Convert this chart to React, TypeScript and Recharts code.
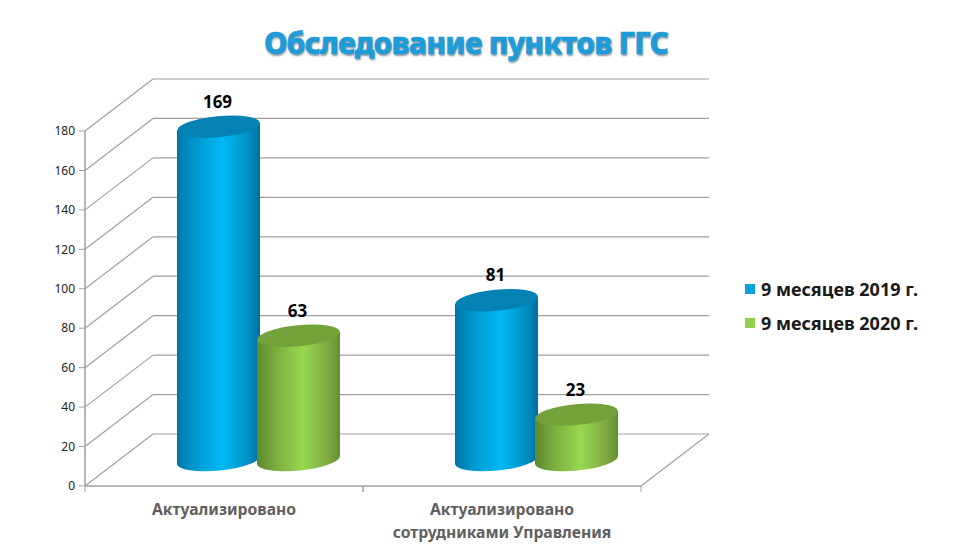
import { BarChart, Bar, XAxis, YAxis, CartesianGrid, Legend, LabelList } from 'recharts'

// ── Data ─────────────────────────────────────────────────────────────────────
const categories = ['Актуализировано', 'Актуализировано\nсотрудниками Управления']
const values2019 = [169, 81]
const values2020 = [63, 23]
const yTicks = [0, 20, 40, 60, 80, 100, 120, 140, 160, 180]
const seriesNames = ['9 месяцев 2019 г.', '9 месяцев 2020 г.']
const title = 'Обследование пунктов ГГС'

const rows = categories.map((name, i) => ({ name, a: values2019[i], b: values2020[i] }))

// ── Fake 3D look ─────────────────────────────────────────────────────────────
const DEPTH_X = 68
const DEPTH_Y = 52
const MID_X = DEPTH_X / 2
const MID_Y = DEPTH_Y / 2
const TILT = -5.5
const RY = 10.5
const LINE = '#a0a0a0'
const FONT = '"Noto Sans", sans-serif'
const PLOT_W = 556

const C = {
  blueTop: '#0582b4',
  greenTop: '#73a13a',
  blueLegend: '#00a2de',
  greenLegend: '#92d050',
}

function Cylinder(props: any) {
  const { x, y, width, height, fill, top } = props
  const rx = width / 2
  const cx = x + rx + MID_X
  const yTop = y - MID_Y
  const yBot = y + height - MID_Y
  const dy = rx * Math.sin((-TILT * Math.PI) / 180)
  const xl = cx - rx
  const xr = cx + rx
  const body = `M${xl} ${yTop + dy} L${xl} ${yBot + dy} A${rx} ${RY} ${TILT} 0 0 ${xr} ${yBot - dy} L${xr} ${yTop - dy} Z`
  return (
    <g>
      <path d={body} fill={fill} />
      <ellipse cx={cx} cy={yTop} rx={rx} ry={RY} fill={top} transform={`rotate(${TILT} ${cx} ${yTop})`} />
    </g>
  )
}

// grid line on the back wall + its run along the side wall
function WallLine(props: any) {
  const { x1, x2, y1, index } = props
  return (
    <g key={`wall-${index}`} stroke={LINE} strokeWidth={1.2} fill="none">
      <line x1={x1} y1={y1} x2={x1 + DEPTH_X} y2={y1 - DEPTH_Y} />
      <line x1={x1 + DEPTH_X} y1={y1 - DEPTH_Y} x2={x2 + DEPTH_X} y2={y1 - DEPTH_Y} />
      {index === 0 && <line x1={x2} y1={y1} x2={x2 + DEPTH_X} y2={y1 - DEPTH_Y} />}
    </g>
  )
}

function CategoryTick(props: any) {
  const { x, y, payload } = props
  const half = PLOT_W / categories.length / 2
  const lines = String(payload.value).split('\n')
  return (
    <g>
      <line x1={x - half} y1={y - 8} x2={x - half} y2={y - 2} stroke={LINE} />
      <line x1={x + half} y1={y - 8} x2={x + half} y2={y - 2} stroke={LINE} />
      {lines.map((t, i) => (
        <text key={t} x={x} y={y + 21 + i * 23} textAnchor="middle" fontFamily={FONT} fontSize={15.7} fontWeight={700} fill="#606060">
          {t}
        </text>
      ))}
    </g>
  )
}

function ValueLabel(props: any) {
  const { x, y, width, value } = props
  return (
    <text x={x + width / 2 + MID_X - 1} y={y - MID_Y - 19} textAnchor="middle" fontFamily={FONT} fontSize={17} fontWeight={700} fill="#000">
      {value}
    </text>
  )
}

function LegendBox() {
  const swatches = [C.blueLegend, C.greenLegend]
  return (
    <div style={{ width: 200 }}>
      {seriesNames.map((n, i) => (
        <div key={n} style={{ display: 'flex', alignItems: 'center', height: 34, fontFamily: FONT, fontSize: 18, fontWeight: 700, color: '#1a1a1a' }}>
          <span style={{ width: 10, height: 10, background: swatches[i], marginRight: 6, flexShrink: 0 }} />
          <span style={{ whiteSpace: 'nowrap' }}>{n}</span>
        </div>
      ))}
    </div>
  )
}

export default function App() {
  return (
    <div style={{ position: 'absolute', left: 0, top: 0, width: 960, height: 558, background: '#fff' }}>
      <div
        style={{
          position: 'absolute', left: 0, width: 932, top: 18, textAlign: 'center',
          fontFamily: FONT, fontSize: 30, fontWeight: 800, lineHeight: '50px', color: '#1f9bd8', letterSpacing: -0.8,
          textShadow: '1px 2px 2px rgba(40,70,90,0.55)', WebkitTextStroke: '0.6px #1f9bd8',
        }}
      >
        {title}
      </div>
      <BarChart
        width={960}
        height={558}
        data={rows}
        margin={{ top: 131, right: 119, bottom: 0, left: 0 }}
        barSize={83}
        barGap={-3}
      >
        <defs>
          <linearGradient id="blueBody" x1="0" y1="0" x2="1" y2="0">
            <stop offset="0" stopColor="#0076a8" />
            <stop offset="0.2" stopColor="#0095cc" />
            <stop offset="0.55" stopColor="#00baf5" />
            <stop offset="0.85" stopColor="#0090c4" />
            <stop offset="1" stopColor="#006f9e" />
          </linearGradient>
          <linearGradient id="greenBody" x1="0" y1="0" x2="1" y2="0">
            <stop offset="0" stopColor="#5c8a30" />
            <stop offset="0.25" stopColor="#7eb03f" />
            <stop offset="0.55" stopColor="#98d850" />
            <stop offset="0.85" stopColor="#7fa942" />
            <stop offset="1" stopColor="#638f34" />
          </linearGradient>
        </defs>
        <CartesianGrid vertical={false} horizontal={(p: any) => <WallLine {...p} />} />
        <XAxis
          dataKey="name"
          height={72}
          interval={0}
          axisLine={{ stroke: LINE, strokeWidth: 1.5 }}
          tickLine={false}
          tick={(p: any) => <CategoryTick {...p} />}
        />
        <YAxis
          domain={[0, 180]}
          ticks={yTicks}
          width={85}
          interval={0}
          tickSize={6}
          tickMargin={4}
          axisLine={{ stroke: LINE, strokeWidth: 1.5 }}
          tickLine={{ stroke: LINE }}
          tick={{ fontFamily: FONT, fontSize: 12, fill: '#222' }}
        />
        <Legend
          layout="vertical"
          align="right"
          verticalAlign="middle"
          width={200}
          content={() => <LegendBox />}
          wrapperStyle={{ position: 'absolute', left: 745, top: 272, width: 200, height: 68 }}
        />
        <Bar dataKey="a" name={seriesNames[0]} fill="url(#blueBody)" isAnimationActive={false} shape={(p: any) => <Cylinder {...p} top={C.blueTop} />}>
          <LabelList dataKey="a" content={(p: any) => <ValueLabel {...p} />} />
        </Bar>
        <Bar dataKey="b" name={seriesNames[1]} fill="url(#greenBody)" isAnimationActive={false} shape={(p: any) => <Cylinder {...p} top={C.greenTop} />}>
          <LabelList dataKey="b" content={(p: any) => <ValueLabel {...p} />} />
        </Bar>
      </BarChart>
    </div>
  )
}
